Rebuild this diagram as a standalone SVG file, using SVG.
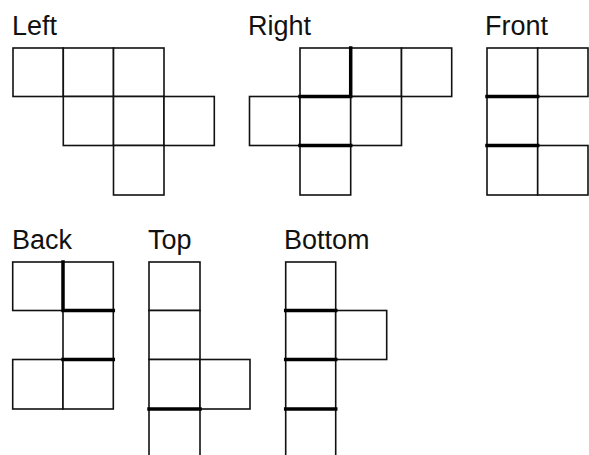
<svg xmlns="http://www.w3.org/2000/svg" width="589" height="455" viewBox="0 0 589 455">
<style>
.c{fill:#fff;stroke:#111;stroke-width:1.6}
.t{fill:none;stroke:#000;stroke-width:3.5;stroke-linecap:square}
.l{font-family:"Liberation Sans",Arial,sans-serif;font-size:27px;fill:#111}
</style>
<rect width="589" height="455" fill="#fff"/>
<g id="left">
<text class="l" x="12" y="35">Left</text>
<rect class="c" x="13" y="48" width="50.3" height="48.5"/>
<rect class="c" x="63.3" y="48" width="50.2" height="48.5"/>
<rect class="c" x="113.5" y="48" width="50.5" height="48.5"/>
<rect class="c" x="63.3" y="96.5" width="50.2" height="49"/>
<rect class="c" x="113.5" y="96.5" width="50.5" height="49"/>
<rect class="c" x="164" y="96.5" width="50.3" height="49"/>
<rect class="c" x="113.5" y="145.5" width="50.5" height="49.5"/>
</g>
<g id="right">
<text class="l" x="248" y="35">Right</text>
<rect class="c" x="300" y="48" width="50.7" height="48.5"/>
<rect class="c" x="350.7" y="48" width="50.8" height="48.5"/>
<rect class="c" x="401.5" y="48" width="50.2" height="48.5"/>
<rect class="c" x="249.5" y="96.5" width="50.5" height="49"/>
<rect class="c" x="300" y="96.5" width="50.7" height="49"/>
<rect class="c" x="350.7" y="96.5" width="50.8" height="49"/>
<rect class="c" x="300" y="145.5" width="50.7" height="49.5"/>
<path class="t" d="M350.7 48V96.5M300 96.5H350.7M300 145.5H350.7"/>
</g>
<g id="front">
<text class="l" x="485" y="35">Front</text>
<rect class="c" x="487" y="48" width="50.7" height="48.5"/>
<rect class="c" x="537.7" y="48" width="50.3" height="48.5"/>
<rect class="c" x="487" y="96.5" width="50.7" height="49"/>
<rect class="c" x="487" y="145.5" width="50.7" height="49.5"/>
<rect class="c" x="537.7" y="145.5" width="50.3" height="49.5"/>
<path class="t" d="M487 96.5H537.7M487 145.5H537.7"/>
</g>
<g id="back">
<text class="l" x="12" y="249">Back</text>
<rect class="c" x="12.7" y="262" width="50.3" height="48.5"/>
<rect class="c" x="63" y="262" width="50.3" height="48.5"/>
<rect class="c" x="63" y="310.5" width="50.3" height="49"/>
<rect class="c" x="12.7" y="359.5" width="50.3" height="49.5"/>
<rect class="c" x="63" y="359.5" width="50.3" height="49.5"/>
<path class="t" d="M63 262V310.5M63 310.5H113.3M63 359.5H113.3"/>
</g>
<g id="top">
<text class="l" x="148" y="249">Top</text>
<rect class="c" x="149" y="262" width="51" height="48.5"/>
<rect class="c" x="149" y="310.5" width="51" height="49"/>
<rect class="c" x="149" y="359.5" width="51" height="49.5"/>
<rect class="c" x="200" y="359.5" width="50" height="49.5"/>
<rect class="c" x="149" y="409" width="51" height="49.5"/>
<path class="t" d="M149 409H200"/>
</g>
<g id="bottom">
<text class="l" x="284" y="249">Bottom</text>
<rect class="c" x="285.7" y="262" width="50" height="48.5"/>
<rect class="c" x="285.7" y="310.5" width="50" height="49"/>
<rect class="c" x="335.7" y="310.5" width="51" height="49"/>
<rect class="c" x="285.7" y="359.5" width="50" height="49.5"/>
<rect class="c" x="285.7" y="409" width="50" height="49.5"/>
<path class="t" d="M285.7 310.5H335.7M285.7 359.5H335.7M285.7 409H335.7"/>
</g>
<g id="connectors"></g>
</svg>
